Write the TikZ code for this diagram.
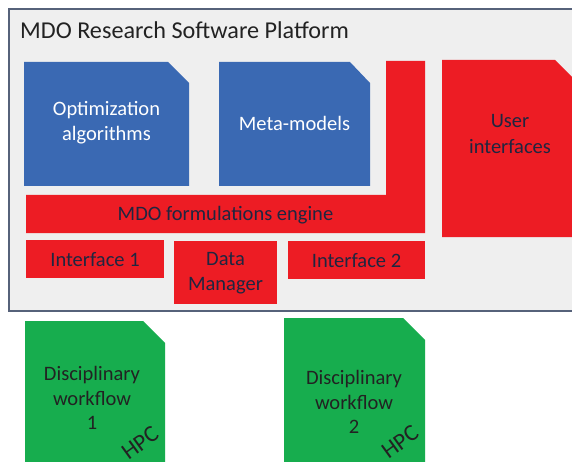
\documentclass[tikz,border=0pt]{standalone}
\usepackage{fontspec}
\setmainfont{Carlito}
\definecolor{platfill}{HTML}{EFEFEF}
\definecolor{platline}{HTML}{56627A}
\definecolor{blk}{HTML}{3A69B3}
\definecolor{redk}{HTML}{ED1C24}
\definecolor{grn}{HTML}{17AD4E}
\definecolor{navy}{HTML}{1F2640}
\definecolor{dgray}{HTML}{222222}
\tikzset{
  platform/.style={fill=platfill, draw=platline, line width=1.5pt},
  bluebox/.style={fill=blk},
  redbox/.style={fill=redk},
  greenbox/.style={fill=grn},
  bluetxt/.style={text=white, align=center, inner sep=0pt, font=\fontsize{20.5}{25}\selectfont},
  redtxt/.style={text=navy, align=center, inner sep=0pt, font=\fontsize{20.5}{25}\selectfont},
  greentxt/.style={text=dgray, align=center, inner sep=0pt, font=\fontsize{20.5}{24.5}\selectfont},
  hpctxt/.style={text=dgray, inner sep=0pt, rotate=36, font=\fontsize{23.5}{28}\selectfont},
}
\begin{document}
\begin{tikzpicture}[x=1pt,y=-1pt]
\useasboundingbox (0,0) rectangle (572,462);
\clip (0,0) rectangle (572,462);
\fill[white] (0,0) rectangle (572,462);
% platform
\draw[platform] (9,9) rectangle (600,311);
\node[anchor=base west, text=dgray, font=\fontsize{24.2}{29}\selectfont, inner sep=0pt] (title) at (20,38.5) {MDO Research Software Platform};
% blue boxes
\fill[bluebox] (24,62) -- (168,62) -- (189,83) -- (189,186) -- (24,186) -- cycle;
\node[bluetxt] (opt) at (106.5,123) {Optimization\\algorithms};
\fill[bluebox] (219,62) -- (350,62) -- (370,83) -- (370,186) -- (219,186) -- cycle;
\node[bluetxt] (meta) at (294.5,123) {Meta-models};
% L-shaped engine
\fill[redbox] (386,61) -- (425,61) -- (425,233) -- (26,233) -- (26,195) -- (386,195) -- cycle;
\node[redtxt] (engine) at (225.5,215) {MDO formulations engine};
% user interfaces
\fill[redbox] (442,60) -- (555,60) -- (577,82) -- (577,237) -- (442,237) -- cycle;
\node[redtxt] (ui) at (510,134) {User\\interfaces};
% interfaces
\fill[redbox] (26,240) rectangle (164,278);
\node[redtxt] (if1) at (95,260) {Interface 1};
\fill[redbox] (174,241) rectangle (277,304);
\node[redtxt] (dm) at (225.5,273) {Data\\Manager};
\fill[redbox] (288,241) rectangle (425,279);
\node[redtxt] (if2) at (356.5,261) {Interface 2};
% green boxes
\fill[greenbox] (25,321) -- (143,321) -- (165,343) -- (165,470) -- (25,470) -- cycle;
\node[greentxt] (dw1a) at (92,386) {Disciplinary\\workflow};
\node[greentxt] (dw1b) at (92,423) {1};
\node[hpctxt] (hpc1) at (140,443) {HPC};
\fill[greenbox] (284,318) -- (403,318) -- (425,340) -- (425,470) -- (284,470) -- cycle;
\node[greentxt] (dw2a) at (354,390) {Disciplinary\\workflow};
\node[greentxt] (dw2b) at (354,427) {2};
\node[hpctxt] (hpc2) at (400,442) {HPC};
\end{tikzpicture}
\end{document}
